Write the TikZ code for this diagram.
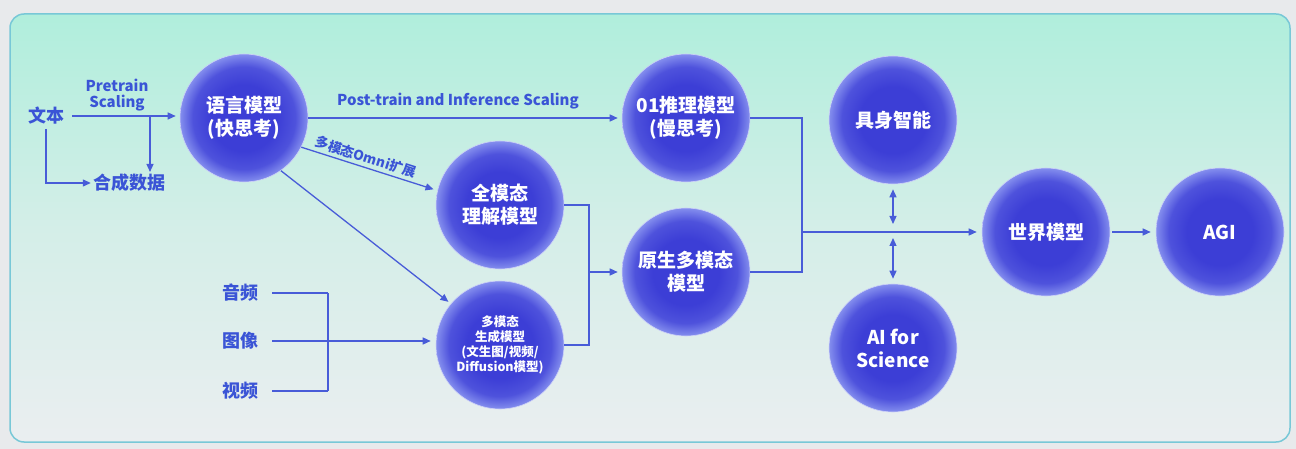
\documentclass[tikz,border=0pt]{standalone}
\usepackage{fontspec}
\setmainfont{Noto Sans CJK SC}
\usetikzlibrary{arrows.meta,shadings}
\definecolor{lblc}{RGB}{58,84,214}
\definecolor{lnc}{RGB}{72,92,216}
\definecolor{cin}{RGB}{60,62,214}
\definecolor{cout}{RGB}{132,142,238}
\definecolor{bgtop}{RGB}{176,238,220}
\definecolor{bgmid}{RGB}{212,238,232}
\definecolor{bgbot}{RGB}{234,238,240}
\definecolor{outerc}{RGB}{232,234,236}
\definecolor{framec}{RGB}{120,200,215}
\pgfdeclareradialshading{bubble}{\pgfpoint{0bp}{0bp}}{color(0bp)=(cin); color(13bp)=(cin); color(20bp)=(cin!75!cout); color(25bp)=(cout); color(50bp)=(cout)}
\tikzset{
  bub/.style={circle, minimum size=128pt, inner sep=0pt, shading=bubble, draw=white!60!cout, line width=0.6pt, text=white, font=\bfseries\fontsize{19}{23}\selectfont, align=center},
  lbl/.style={text=lblc, font=\bfseries\fontsize{18}{21}\selectfont, inner sep=2pt},
  small/.style={text=lblc, font=\bfseries\fontsize{15}{16}\selectfont, align=center},
  ln/.style={draw=lnc, line width=1.3pt},
  arr/.style={draw=lnc, line width=1.3pt, -{Triangle[length=8pt,width=7pt]}},
  darr/.style={draw=lnc, line width=1.3pt, {Triangle[length=8pt,width=7pt]}-{Triangle[length=8pt,width=7pt]}}
}
\begin{document}
\begin{tikzpicture}[x=1pt,y=-1pt]
\useasboundingbox (0,0) rectangle (1296,449);
\fill[outerc] (0,0) rectangle (1296,449);
\shade[top color=bgtop, bottom color=bgbot, middle color=bgmid, rounded corners=14pt] (10,14) rectangle (1290,442);
\draw[framec, line width=1.5pt, rounded corners=14pt] (10,14) rectangle (1290,442);

% circles
\node[bub] (yy) at (244,118) {语言模型\\(快思考)};
\node[bub] (tl) at (686,118) {01推理模型\\(慢思考)};
\node[bub] (qm) at (500,205) {全模态\\理解模型};
\node[bub] (ys) at (686,272) {原生多模态\\模型};
\node[bub, font=\bfseries\fontsize{12.5}{15}\selectfont] (sc) at (500,345) {多模态\\生成模型\\(文生图/视频/\\Diffusion模型)};
\node[bub] (js) at (893,120) {具身智能};
\node[bub] (ai) at (893,348) {AI for\\Science};
\node[bub] (sj) at (1046,232) {世界模型};
\node[bub] (agi) at (1220,232) {AGI};

% labels
\node[lbl] (wb) at (46,116) {文本};
\node[lbl] (hc) at (129,183) {合成数据};
\node[lbl] (yp) at (240,293) {音频};
\node[lbl] (tx) at (240,341) {图像};
\node[lbl] (sp) at (240,391) {视频};
\node[small] (pt) at (117,95) {Pretrain\\Scaling};
\node[small] (pis) at (458,101) {Post-train and Inference Scaling};

% connectors
\draw[arr, shorten <=6pt, shorten >=4pt] (wb.east) -- (wb.east -| yy.west);
\coordinate (pd) at (150,117);
\draw[arr] (pd) -- (pd |- hc.north);
\draw[arr, shorten <=2pt] (wb.south) -- (wb.south |- hc.west) -- (hc.west);
\draw[arr, shorten >=4pt] (yy.east) -- (tl.west);
\draw[arr, shorten >=4pt] (yy.-27) -- node[sloped, above, pos=0.45, text=lblc, font=\bfseries\fontsize{13.5}{15}\selectfont, inner sep=3pt] {多模态Omni扩展} (qm.167);
\draw[arr, shorten >=3pt] (yy.-55) -- (sc.140);

\coordinate (b1) at (328,0);
\draw[ln, shorten <=12pt] (yp.east) -- (yp.east -| b1);
\draw[ln] (yp.east -| b1) -- (sp.east -| b1);
\draw[ln, shorten <=12pt] (sp.east) -- (sp.east -| b1);
\draw[arr, shorten <=12pt, shorten >=5pt] (tx.east) -- (tx.east -| sc.west);

\coordinate (b2) at (589,0);
\draw[ln] (qm.east) -- (qm.east -| b2) -- (sc.east -| b2) -- (sc.east);
\draw[arr, shorten >=4pt] (b2 |- ys.west) -- (ys.west);

\coordinate (b3) at (802,0);
\draw[ln] (tl.east) -- (tl.east -| b3) -- (ys.east -| b3) -- (ys.east);
\draw[arr, shorten >=5pt] (b3 |- sj.west) -- (sj.west);

\coordinate (m1) at (893,224);
\coordinate (m2) at (893,238);
\draw[darr, shorten <=5pt] (js.south) -- (m1);
\draw[darr, shorten >=5pt] (m2) -- (ai.north);
\draw[arr, shorten <=2pt, shorten >=5pt] (sj.east) -- (agi.west);
\end{tikzpicture}
\end{document}
